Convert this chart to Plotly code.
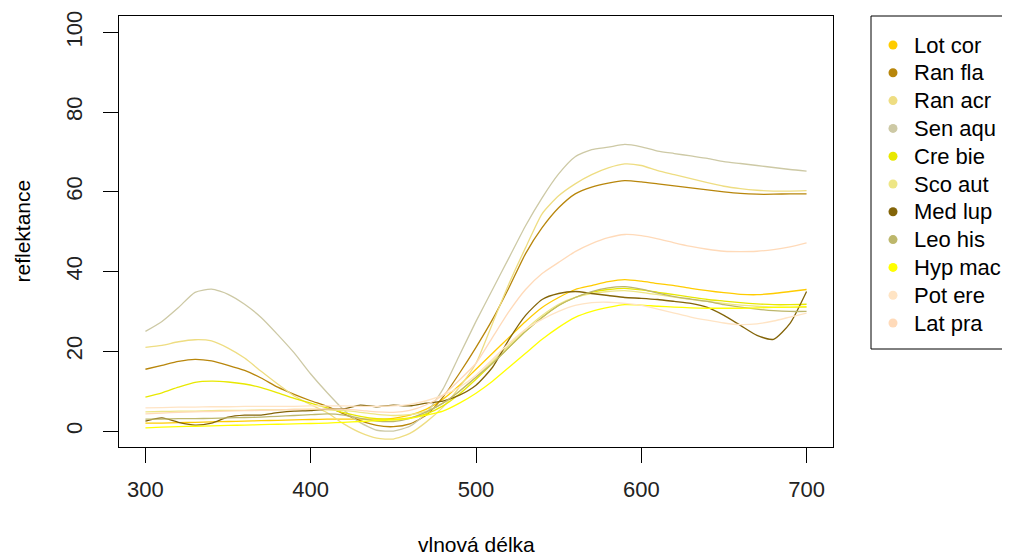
import plotly.graph_objects as go

wavelengths = list(range(300, 701, 10))

species = ["Lot cor", "Ran fla", "Ran acr", "Sen aqu", "Cre bie", "Sco aut",
           "Med lup", "Leo his", "Hyp mac", "Pot ere", "Lat pra"]
colors = ["#FFCC00", "#B8860B", "#EEDD82", "#CDC9A5", "#E8E800", "#EEE685",
          "#836408", "#BDB76B", "#FFFF00", "#FFE4C4", "#FFDAB9"]

lot_cor = [2.0, 2.0, 2.1, 2.2, 2.3, 2.4, 2.5, 2.6, 2.7, 2.8, 2.9, 3.0, 3.0, 3.0, 3.0, 3.2, 4.0, 5.5, 8.0, 11.5,
           15.5, 19.5, 23.5, 27.5, 31.0, 33.5, 35.5, 36.5, 37.5, 38.0, 37.6, 37.0, 36.5, 35.8, 35.2, 34.7, 34.3, 34.2, 34.5, 35.0,
           35.5]
ran_fla = [15.5, 16.5, 17.5, 18.0, 17.6, 16.5, 15.2, 13.3, 11.0, 9.2, 7.6, 6.2, 4.3, 2.6, 1.4, 1.1, 1.8, 4.0, 8.5, 14.5,
           21.0, 28.0, 36.0, 44.5, 51.0, 56.0, 59.5, 61.2, 62.2, 62.8, 62.5, 62.0, 61.5, 61.0, 60.5, 60.0, 59.6, 59.4, 59.4, 59.5,
           59.5]
ran_acr = [21.0, 21.5, 22.4, 22.9, 22.6, 20.8, 18.3, 15.0, 11.8, 8.8, 6.6, 4.6, 1.8, -0.4, -1.8, -2.0, -0.6, 2.3, 6.0, 11.0,
           17.0, 27.0, 37.0, 46.0, 54.5, 59.0, 62.0, 64.3, 66.0, 67.0, 66.6, 65.3, 64.3, 63.3, 62.3, 61.4, 60.8, 60.4, 60.2, 60.2,
           60.3]
sen_aqu = [25.0, 27.5, 31.0, 34.8, 35.6, 34.3, 31.8, 28.5, 24.2, 19.6, 14.3, 9.6, 5.3, 2.1, 0.2, 0.0, 1.2, 4.5, 10.5, 19.0,
           27.5, 35.5, 43.5, 51.5, 58.5, 64.5, 68.8, 70.6, 71.2, 71.9, 71.3, 70.2, 69.6, 69.0, 68.4, 67.6, 67.1, 66.6, 66.1, 65.6,
           65.2]
cre_bie = [8.5, 9.6, 11.0, 12.2, 12.5, 12.3, 11.8, 10.9, 9.6, 8.2, 7.0, 5.8, 4.6, 3.7, 3.1, 2.9, 3.3, 4.3, 6.3, 9.3,
           13.0, 17.0, 21.0, 25.0, 28.5, 31.5, 33.5, 34.8, 35.5, 35.8, 35.4, 34.8, 34.2, 33.6, 33.0, 32.6, 32.2, 31.9, 31.7, 31.7,
           31.8]
sco_aut = [4.8, 4.9, 5.0, 5.0, 5.1, 5.2, 5.2, 5.3, 5.3, 5.4, 5.4, 5.3, 5.1, 4.7, 4.2, 3.9, 4.1, 5.0, 7.0, 10.0,
           13.5, 17.5, 21.5, 25.5, 29.0, 31.8, 33.5, 34.5, 35.0, 35.2, 34.8, 34.2, 33.6, 33.0, 32.5, 32.0, 31.6, 31.3, 31.1, 31.0,
           31.0]
med_lup = [2.5, 3.3, 2.2, 1.5, 2.0, 3.5, 4.0, 4.0, 4.6, 5.0, 5.1, 5.5, 5.6, 6.5, 6.1, 6.5, 6.3, 7.0, 7.5, 9.0,
           11.5, 16.0, 23.0, 29.0, 33.0, 34.5, 35.0, 34.5, 34.0, 33.5, 33.3, 33.0, 32.5, 32.0, 31.0, 29.0, 26.5, 24.0, 23.0, 27.0,
           35.0]
leo_his = [3.0, 3.0, 3.1, 3.1, 3.2, 3.3, 3.4, 3.5, 3.7, 3.9, 4.1, 4.3, 4.0, 3.2, 2.5, 2.4, 3.2, 4.8, 7.0, 10.0,
           13.5, 17.0, 21.0, 25.0, 28.5, 31.5, 33.5, 35.0, 35.9, 36.2, 35.6, 34.6, 33.7, 33.1, 32.5, 31.7, 31.1, 30.6, 30.2, 30.0,
           30.0]
hyp_mac = [0.8, 1.0, 1.1, 1.2, 1.3, 1.4, 1.5, 1.6, 1.7, 1.8, 1.9, 2.0, 2.2, 2.4, 2.6, 2.8, 3.2, 4.0, 5.0, 7.0,
           9.5, 12.5, 16.0, 19.5, 23.0, 26.0, 28.5, 30.0, 31.0, 31.7, 31.6, 31.3, 31.1, 30.9, 30.8, 30.8, 30.8, 30.9, 31.0, 31.1,
           31.2]
pot_ere = [5.8, 5.9, 6.0, 6.0, 6.1, 6.1, 6.2, 6.2, 6.2, 6.2, 6.3, 6.3, 6.3, 6.2, 6.2, 6.3, 6.7, 7.6, 9.0, 11.0,
           14.0, 18.0, 22.0, 25.5, 28.0, 30.0, 31.5, 32.2, 32.3, 32.0, 31.5, 30.6, 29.6, 28.6, 27.8, 27.1, 26.7, 26.9, 27.6, 28.6,
           29.6]
lat_pra = [4.3, 4.5, 4.7, 4.8, 4.9, 5.0, 5.1, 5.2, 5.3, 5.4, 5.5, 5.5, 5.5, 5.2, 4.8, 4.7, 5.2, 6.6, 9.0, 12.8,
           17.0, 23.5, 30.0, 35.5, 39.5, 42.3, 45.0, 47.0, 48.5, 49.3, 49.0, 48.2, 47.2, 46.3, 45.6, 45.1, 45.0, 45.1, 45.5, 46.2,
           47.2]

series = [lot_cor, ran_fla, ran_acr, sen_aqu, cre_bie, sco_aut, med_lup, leo_his, hyp_mac, pot_ere, lat_pra]
for s in series:
    assert len(s) == len(wavelengths)

x_ticks = [300, 400, 500, 600, 700]
y_ticks = [0, 20, 40, 60, 80, 100]

FONT = "Liberation Sans, Arial, sans-serif"

fig = go.Figure()
for name, col, vals in zip(species, colors, series):
    fig.add_trace(go.Scatter(x=wavelengths, y=vals, mode="lines", name=name,
                             line=dict(color=col, width=1.3, shape="spline", smoothing=0.6),
                             showlegend=False, hoverinfo="skip"))

# page body has an 8px margin: figure pixel = picture pixel - 8
OFF = 8
W, H = 1010, 555 - OFF
L, T = 119 - OFF, 16 - OFF
R = W - (833 - OFF)
B = H - (447 - OFF)
pw, ph = W - L - R, H - T - B


def px(xp):
    return (xp - OFF - L) / pw


def py(yp):
    return 1 - (yp - OFF - T) / ph


shapes = [dict(type="rect", xref="paper", yref="paper",
               x0=px(871), x1=px(1040), y0=py(16), y1=py(349),
               line=dict(color="black", width=1), fillcolor="white", layer="above")]
annotations = [
    dict(text="vlnová délka", xref="paper", yref="paper", x=0.5, y=py(544),
         xanchor="center", yanchor="middle", showarrow=False,
         font=dict(size=21, family=FONT, color="black")),
    dict(text="reflektance", xref="paper", yref="paper", x=px(22), y=0.5,
         xanchor="center", yanchor="middle", textangle=-90, showarrow=False,
         font=dict(size=21, family=FONT, color="black")),
]
for i, (name, col) in enumerate(zip(species, colors)):
    yc = 45 + i * 27.8
    shapes.append(dict(type="circle", xref="paper", yref="paper",
                       x0=px(893 - 4.5), x1=px(893 + 4.5), y0=py(yc + 4.5), y1=py(yc - 4.5),
                       line=dict(width=0), fillcolor=col, layer="above"))
    annotations.append(dict(text=name, xref="paper", yref="paper", x=px(912), y=py(yc),
                            xanchor="left", yanchor="middle", showarrow=False,
                            font=dict(size=22, family=FONT, color="black")))

fig.update_layout(
    width=W, height=H,
    margin=dict(l=L, r=R, t=T, b=B, autoexpand=False),
    paper_bgcolor="white", plot_bgcolor="white",
    font=dict(family=FONT, size=22, color="black"),
    showlegend=False,
    xaxis=dict(range=[284, 716], tickvals=x_ticks, ticktext=[str(v) for v in x_ticks],
               showgrid=False, zeroline=False, showline=True, mirror=True,
               linecolor="black", linewidth=1, ticks="outside", ticklen=15,
               tickcolor="black", tickwidth=1, ticklabelstandoff=8,
               tickfont=dict(size=22, family=FONT, color="#222")),
    yaxis=dict(range=[-4.0, 104.1], tickvals=y_ticks, ticktext=[str(v) for v in y_ticks],
               showgrid=False, zeroline=False, showline=True, mirror=True,
               linecolor="black", linewidth=1, ticks="outside", ticklen=15,
               tickcolor="black", tickwidth=1, tickangle=-90, ticklabelstandoff=12,
               tickfont=dict(size=22, family=FONT, color="#222")),
    shapes=shapes,
    annotations=annotations,
)

fig.write_html("out.html")
